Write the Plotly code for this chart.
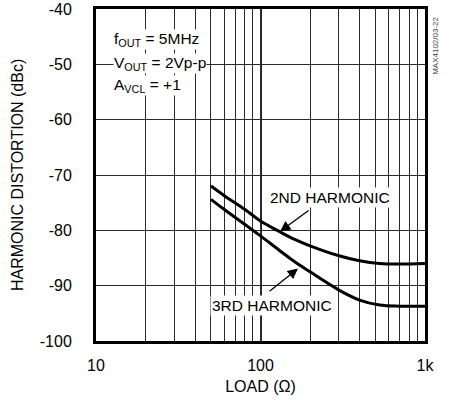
import plotly.graph_objects as go

load_ohm = [50, 60, 80, 100, 130, 160, 200, 300, 400, 530, 700, 1000]
hd2_dbc = [-72.0, -73.7, -76.2, -78.3, -80.2, -81.6, -82.8, -84.6, -85.5, -86.0, -86.1, -86.0]
hd3_dbc = [-74.4, -76.2, -78.9, -81.0, -83.6, -85.6, -87.5, -90.8, -92.6, -93.5, -93.7, -93.7]

x_major = [10, 100, 1000]
x_major_text = ["10", "100", "1k"]
x_minor = [20, 30, 40, 50, 60, 70, 80, 90, 200, 300, 400, 500, 600, 700, 800, 900]
y_tickvals = [-40, -50, -60, -70, -80, -90, -100]
y_ticktext = ["-40", "-50", "-60", "-70", "-80", "-90", "-100"]

FONT = "Liberation Sans, Arial, sans-serif"
GRID = "#2a2a2a"

fig = go.Figure()
for ys in (hd2_dbc, hd3_dbc):
    fig.add_trace(go.Scatter(x=load_ohm, y=ys, mode="lines",
                             line=dict(color="black", width=3, shape="spline", smoothing=1.0),
                             showlegend=False, hoverinfo="skip"))

fig.update_layout(
    width=451, height=400,
    margin=dict(l=96, r=26, t=9, b=59, autoexpand=False),
    paper_bgcolor="white", plot_bgcolor="white",
    font=dict(family=FONT, size=16, color="black"),
    xaxis=dict(type="log", range=[1, 3], tickvals=x_major, ticktext=x_major_text,
               showgrid=True, gridcolor=GRID, gridwidth=2,
               minor=dict(tickvals=x_minor, showgrid=True, gridcolor=GRID, gridwidth=1, ticks=""),
               showline=True, linecolor="black", linewidth=3, mirror=True,
               ticks="", ticklabelstandoff=8, automargin=False,
               title=dict(text="LOAD (Ω)", standoff=8, font=dict(size=16))),
    yaxis=dict(range=[-100, -40], tickvals=y_tickvals, ticktext=y_ticktext,
               showgrid=True, gridcolor=GRID, gridwidth=1,
               showline=True, linecolor="black", linewidth=3, mirror=True,
               ticks="", ticklabelstandoff=18, zeroline=False, automargin=False),
)

# y axis title
fig.add_annotation(xref="paper", yref="paper", x=-0.240, y=0.5, xanchor="center", yanchor="middle",
                   text="HARMONIC DISTORTION (dBc)", textangle=-90, showarrow=False,
                   font=dict(size=16))

# condition text box
cond_lines = ["f<sub>OUT</sub> = 5MHz", "V<sub>OUT</sub> = 2Vp-p", "A<sub>VCL</sub> = +1"]
cond_y = [0.907, 0.837, 0.771]
for txt, yy in zip(cond_lines, cond_y):
    fig.add_annotation(xref="paper", yref="paper", x=0.052, y=yy,
                       xanchor="left", yanchor="middle", text=txt, showarrow=False,
                       bgcolor="white", font=dict(size=15.5), borderpad=0)

# arrows
fig.add_annotation(x=2.119, y=-80.2, xref="x", yref="y", text="", showarrow=True,
                   ax=30, ay=-22, arrowhead=2, arrowsize=1.6, arrowwidth=1.3, arrowcolor="black")
fig.add_annotation(x=2.228, y=-86.9, xref="x", yref="y", text="", showarrow=True,
                   ax=-30, ay=24, arrowhead=2, arrowsize=1.6, arrowwidth=1.3, arrowcolor="black")
fig.add_annotation(xref="paper", yref="paper", x=0.711, y=0.431, xanchor="center", yanchor="middle",
                   text="2ND HARMONIC", showarrow=False, bgcolor="white",
                   font=dict(size=15.5), borderpad=1)
fig.add_annotation(xref="paper", yref="paper", x=0.535, y=0.108, xanchor="center", yanchor="middle",
                   text="3RD HARMONIC", showarrow=False, bgcolor="white",
                   font=dict(size=15.5), borderpad=1)

fig.add_annotation(xref="paper", yref="paper", x=1.033, y=0.982, xanchor="center", yanchor="top",
                   text="MAX4102/03-22", textangle=-90, showarrow=False,
                   font=dict(size=8, color="#444"))

fig.write_html("out.html", config={"displayModeBar": False},
               post_script="document.body.style.margin='0';")
